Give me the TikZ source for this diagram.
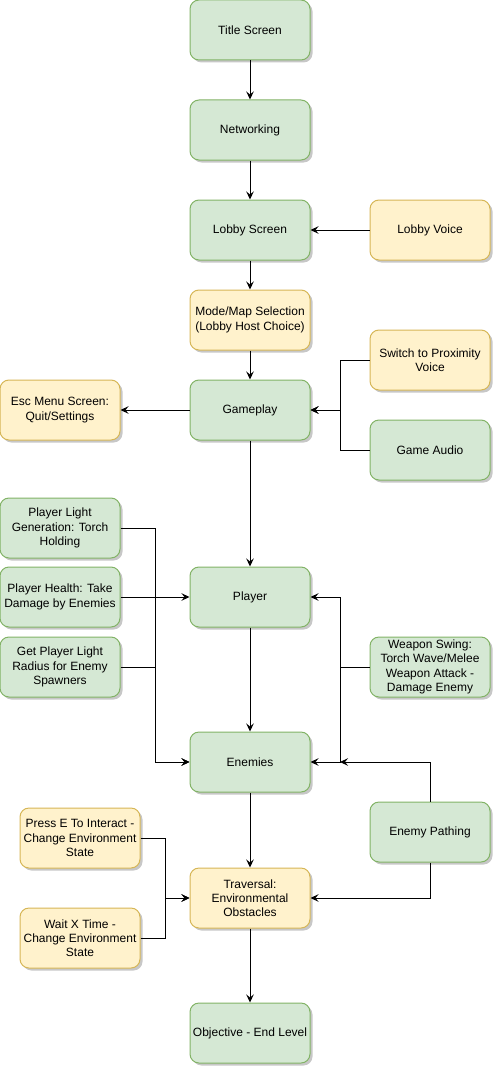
\documentclass[tikz,border=0pt]{standalone}
\usepackage{fontspec}
\setmainfont{Liberation Sans}
\usetikzlibrary{arrows.meta,shadows}
\definecolor{gfill}{HTML}{D5E8D4}
\definecolor{gline}{HTML}{82B366}
\definecolor{yfill}{HTML}{FFF2CC}
\definecolor{yline}{HTML}{D6B656}
\tikzset{
  box/.style={rectangle, rounded corners=9pt, minimum width=120pt, minimum height=60pt,
    inner sep=0pt, align=center, line width=1pt,
    font=\fontsize{12}{14.3}\selectfont,
    drop shadow={shadow xshift=2.5pt, shadow yshift=-2.5pt, opacity=0.22, fill=black}},
  gbox/.style={box, draw=gline, fill=gfill},
  ybox/.style={box, draw=yline, fill=yfill},
  conn/.style={line width=1pt, -{Stealth[length=8pt,width=7.5pt,inset=3pt]}},
  seg/.style={line width=1pt}
}
\begin{document}
\begin{tikzpicture}[x=1pt,y=-1pt]
\useasboundingbox (0,0) rectangle (497,1070);
\node[gbox] (title) at (250,30) {Title Screen};
\node[gbox] (net) at (250,130) {Networking};
\node[gbox] (lobby) at (250,230) {Lobby Screen};
\node[ybox] (lvoice) at (430,230) {Lobby Voice};
\node[ybox] (mode) at (250,320) {Mode/Map Selection\\(Lobby Host Choice)};
\node[ybox] (prox) at (430,360) {Switch to Proximity\\Voice};
\node[gbox] (game) at (250,410) {Gameplay};
\node[ybox] (esc) at (60,410) {Esc Menu Screen:\\Quit/Settings};
\node[gbox] (audio) at (430,450) {Game Audio};
\node[gbox] (plg) at (60,528) {Player Light\\Generation: Torch\\Holding};
\node[gbox] (phe) at (60,597) {Player Health: Take\\Damage by Enemies};
\node[gbox] (gpl) at (60,667) {Get Player Light\\Radius for Enemy\\Spawners};
\node[gbox] (player) at (250,597) {Player};
\node[gbox] (weap) at (430,667) {Weapon Swing:\\Torch Wave/Melee\\Weapon Attack -\\Damage Enemy};
\node[gbox] (enemies) at (250,762) {Enemies};
\node[gbox] (path) at (430,832) {Enemy Pathing};
\node[ybox] (presse) at (80,838) {Press E To Interact -\\Change Environment\\State};
\node[ybox] (wait) at (80,938) {Wait X Time -\\Change Environment\\State};
\node[ybox] (trav) at (250,898) {Traversal:\\Environmental\\Obstacles};
\node[gbox] (obj) at (250,1033) {Objective - End Level};
\coordinate (pj) at (340,762);

\draw[conn] (title) -- (net);
\draw[conn] (net) -- (lobby);
\draw[conn] (lvoice) -- (lobby);
\draw[conn] (lobby) -- (mode);
\draw[conn] (mode) -- (game);
\draw[conn] (game) -- (esc);
\draw[conn] (prox.west) -| (340,410) -- (game.east);
\draw[conn] (audio.west) -| (340,410) -- (game.east);
\draw[conn] (game) -- (player);
\draw[conn] (plg.east) -| (155,762) -- (enemies.west);
\draw[conn] (gpl.east) -| (155,762) -- (enemies.west);
\draw[conn] (phe.east) -- (player.west);
\draw[conn] (weap.west) -| (340,597) -- (player.east);
\draw[conn] (weap.west) -| (pj) -- (enemies.east);
\draw[conn] (path.north) |- (pj);
\draw[conn] (player) -- (enemies);
\draw[conn] (enemies) -- (trav);
\draw[conn] (path.south) |- (trav.east);
\draw[conn] (presse.east) -| (165,898) -- (trav.west);
\draw[conn] (wait.east) -| (165,898) -- (trav.west);
\draw[conn] (trav) -- (obj);
\end{tikzpicture}
\end{document}
